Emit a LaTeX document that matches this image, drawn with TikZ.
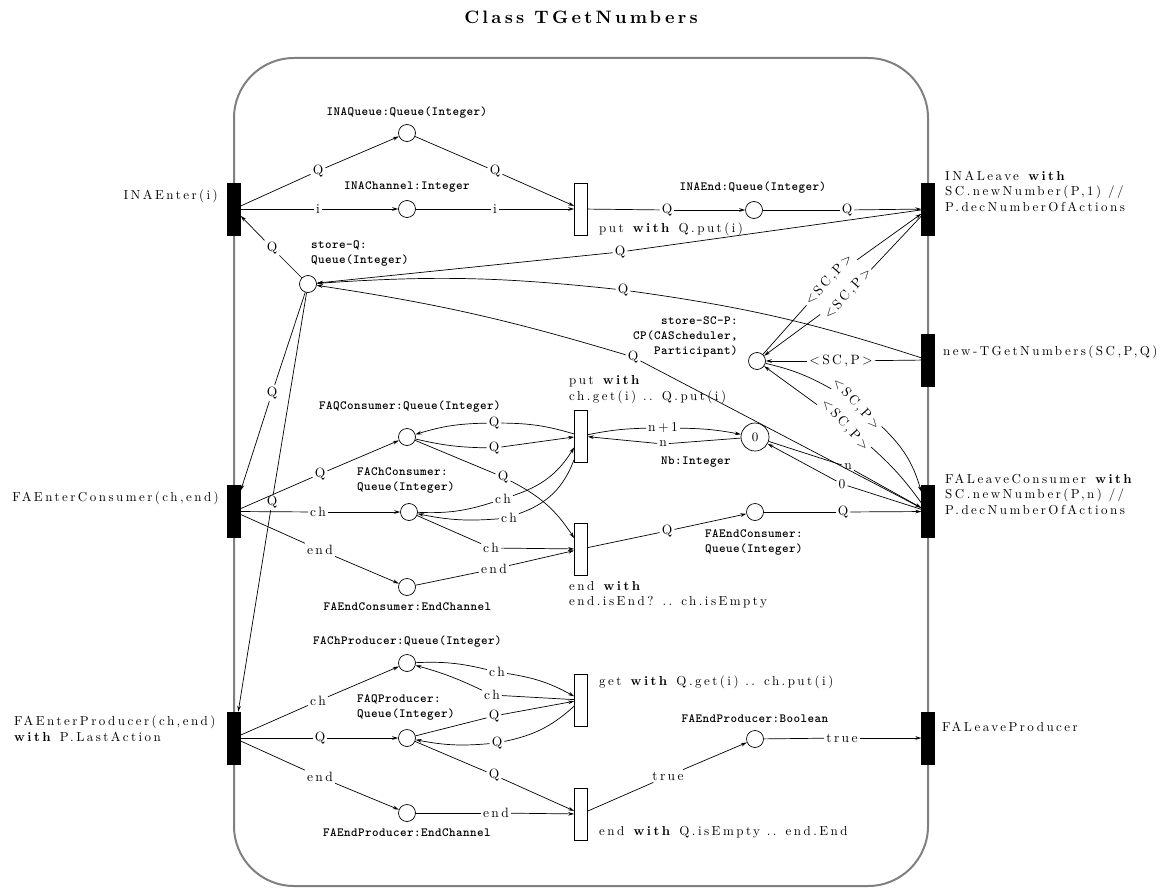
\documentclass[tikz,border=0pt]{standalone}
\usepackage{fontspec}
\setmainfont{lmroman10}[Extension=.otf, UprightFont=*-regular, BoldFont=*-bold, ItalicFont=*-italic, BoldItalicFont=*-bolditalic]
\setmonofont{lmmonolt10}[Extension=.otf, UprightFont=*-regular, BoldFont=*-bold]
\usetikzlibrary{arrows.meta}
\definecolor{boxgray}{gray}{0.5}
\newcommand\netlabfont{\fontsize{13}{15.5}\selectfont\addfontfeature{LetterSpace=19}}
\newcommand\netarcfont{\fontsize{13.5}{16}\selectfont\addfontfeature{LetterSpace=18}}
\newcommand\netmonofont{\ttfamily\bfseries\fontsize{12.5}{15}\selectfont\addfontfeature{LetterSpace=3.5}}
\newcommand\nettitlefont{\bfseries\fontsize{18}{21}\selectfont\addfontfeature{LetterSpace=18}}
\begin{document}
\begin{tikzpicture}[x=1pt,y=1pt,
  flow/.style={line width=0.7pt},
  flowarr/.style={flow,-{Stealth[length=6pt,width=3.6pt]}},
  bt/.style={draw,fill=black,minimum width=13pt,minimum height=52pt,inner sep=0pt},
  wt/.style={draw,fill=white,line width=0.7pt,minimum width=13pt,minimum height=52pt,inner sep=0pt},
  pl/.style={circle,draw,fill=white,line width=0.7pt,minimum size=17pt,inner sep=0pt},
  lab/.style={font=\netarcfont,inner sep=2pt},
  txt/.style={font=\netlabfont,inner sep=0pt,align=left},
  mono/.style={font=\netmonofont,inner sep=0pt},
]
\useasboundingbox (0,0) rectangle (1175,-888);

% title and class frame
\node[font=\nettitlefont] (title) at (581,-17) {Class TGetNumbers};
\draw[boxgray,line width=2pt,rounded corners=60pt] (234,-58) rectangle (928,-886);

% interface transitions (on the frame)
\node[bt] (tINAE) at (234,-209) {};
\node[bt] (tFAEC) at (234,-511.5) {};
\node[bt] (tFAEP) at (234,-738) {};
\node[bt] (tINAL) at (928,-209) {};
\node[bt] (tNew)  at (928,-360) {};
\node[bt] (tFALC) at (928,-511.5) {};
\node[bt] (tFALP) at (928,-738) {};

% internal transitions
\node[wt] (uPut)  at (581,-209) {};
\node[wt] (uPutM) at (581,-436) {};
\node[wt] (uEndC) at (581,-549) {};
\node[wt] (uGet)  at (581,-700) {};
\node[wt] (uEndP) at (581,-814) {};

% places
\node[pl] (pINAQ)    at (407,-133) {};
\node[pl] (pINACh)   at (407,-209) {};
\node[pl] (pINAEnd)  at (754,-210) {};
\node[pl] (pStoreQ)  at (308,-284) {};
\node[pl] (pSCP)     at (757,-361) {};
\node[pl] (pFAQC)    at (407,-437) {};
\node[pl,minimum size=28pt,font=\netlabfont] (pNb) at (755,-437) {0};
\node[pl] (pFAChC)   at (409,-512) {};
\node[pl] (pFAEndCQ) at (755,-512) {};
\node[pl] (pFAEndCE) at (407,-587) {};
\node[pl] (pFAChP)   at (407,-663) {};
\node[pl] (pFAQP)    at (407,-738) {};
\node[pl] (pFAEndPE) at (407,-813) {};
\node[pl] (pFAEndPB) at (755,-739) {};

% transition texts
\node[txt,anchor=east] (xINAE) at (218,-196) {INAEnter(i)};
\node[txt,anchor=east] (xFAEC) at (219,-498) {FAEnterConsumer(ch,end)};
\node[txt,anchor=west] (xFAEP) at (14,-728.5) {FAEnterProducer(ch,end)\\\textbf{with} P.LastAction};
\node[txt,anchor=west] (xINAL) at (945,-191) {INALeave \textbf{with}\\SC.newNumber(P,1) //\\P.decNumberOfActions};
\node[txt,anchor=west] (xNew)  at (943,-352) {new-TGetNumbers(SC,P,Q)};
\node[txt,anchor=west] (xFALC) at (945,-494) {FALeaveConsumer \textbf{with}\\SC.newNumber(P,n) //\\P.decNumberOfActions};
\node[txt,anchor=west] (xFALP) at (942,-727) {FALeaveProducer};
\node[txt,anchor=west] (xPut)  at (599,-229) {put \textbf{with} Q.put(i)};
\node[txt,anchor=west] (xPutM) at (569,-389.5) {put \textbf{with}\\ch.get(i) .. Q.put(i)};
\node[txt,anchor=west] (xEndC) at (569,-595) {end \textbf{with}\\end.isEnd? .. ch.isEmpty};
\node[txt,anchor=west] (xGet)  at (599,-682) {get \textbf{with} Q.get(i) .. ch.put(i)};
\node[txt,anchor=west] (xEndP) at (599,-832) {end \textbf{with} Q.isEmpty .. end.End};

% place texts
\node[mono] (mINAQ)  at (407,-113) {INAQueue:Queue(Integer)};
\node[mono] (mINACh) at (407,-187) {INAChannel:Integer};
\node[mono] (mINAEnd) at (753,-188) {INAEnd:Queue(Integer)};
\node[mono,anchor=west,align=left] (mStoreQ) at (311,-253.5) {store-Q:\\Queue(Integer)};
\node[mono,anchor=east,align=right] (mSCP) at (738,-337) {store-SC-P:\\CP(CAScheduler,\\Participant)};
\node[mono] (mFAQC) at (410,-407) {FAQConsumer:Queue(Integer)};
\node[mono] (mNb) at (696,-462) {Nb:Integer};
\node[mono,anchor=west,align=left] (mFAChC) at (357,-480.5) {FAChConsumer:\\Queue(Integer)};
\node[mono] (mFAEndCE) at (407.5,-607) {FAEndConsumer:EndChannel};
\node[mono,anchor=west,align=left] (mFAEndCQ) at (705,-542) {FAEndConsumer:\\Queue(Integer)};
\node[mono] (mFAChP) at (407.5,-642) {FAChProducer:Queue(Integer)};
\node[mono,anchor=west,align=left] (mFAQP) at (357,-707.5) {FAQProducer:\\Queue(Integer)};
\node[mono] (mFAEndPE) at (407,-833) {FAEndProducer:EndChannel};
\node[mono] (mFAEndPB) at (755,-719) {FAEndProducer:Boolean};

% arc inscriptions
\node[lab] (a1)  at (318,-171) {Q};
\node[lab] (a2)  at (495,-171) {Q};
\node[lab] (a3)  at (318,-209) {i};
\node[lab] (a4)  at (495,-209) {i};
\node[lab] (a5)  at (667,-210) {Q};
\node[lab] (a6)  at (847,-210) {Q};
\node[lab] (a7)  at (272,-248) {Q};
\node[lab] (a8)  at (620,-252) {Q};
\node[lab] (a9)  at (623,-290) {Q};
\node[lab] (a10) at (633,-357) {Q};
\node[lab] (a11) at (272,-393) {Q};
\node[lab] (a12) at (272,-502) {Q};
\node[lab] (a13) at (320,-474) {Q};
\node[lab] (a14) at (318,-512) {ch};
\node[lab] (a15) at (320,-550) {end};
\node[lab] (a16) at (494,-423) {Q};
\node[lab] (a17) at (494,-448) {Q};
\node[lab] (a18) at (503,-477) {Q};
\node[lab] (a19) at (503,-499) {ch};
\node[lab] (a20) at (509,-518) {ch};
\node[lab] (a21) at (491,-548) {ch};
\node[lab] (a22) at (494,-569) {end};
\node[lab] (a23) at (667,-531) {Q};
\node[lab] (a24) at (843,-512) {Q};
\node[lab] (a25) at (663,-428) {n+1};
\node[lab] (a26) at (663,-444) {n};
\node[lab] (a27) at (848,-467) {n};
\node[lab] (a28) at (842,-484) {0};
\node[lab] (a29) at (841,-361) {<SC,P>};
\node[lab,rotate=48] (a30) at (829,-280) {<SC,P>};
\node[lab,rotate=48] (a31) at (848,-294) {<SC,P>};
\node[lab,rotate=-48] (a32) at (856,-404) {<SC,P>};
\node[lab,rotate=-48] (a33) at (845,-425) {<SC,P>};
\node[lab] (a34) at (318,-701) {ch};
\node[lab] (a35) at (320,-738) {Q};
\node[lab] (a36) at (320,-777) {end};
\node[lab] (a37) at (497,-672) {ch};
\node[lab] (a38) at (492,-695) {ch};
\node[lab] (a39) at (494,-716) {Q};
\node[lab] (a40) at (497,-743) {Q};
\node[lab] (a41) at (494,-775) {Q};
\node[lab] (a42) at (496,-813) {end};
\node[lab] (a43) at (668,-776) {true};
\node[lab] (a44) at (842,-738) {true};

% INA part
\draw[flow] (tINAE) -- (a1);   \draw[flowarr] (a1) -- (pINAQ);
\draw[flow] (pINAQ) -- (a2);   \draw[flowarr] (a2) -- (uPut);
\draw[flow] (tINAE) -- (a3);   \draw[flowarr] (a3) -- (pINACh);
\draw[flow] (pINACh) -- (a4);  \draw[flowarr] (a4) -- (uPut);
\draw[flow] (uPut) -- (a5);    \draw[flowarr] (a5) -- (pINAEnd);
\draw[flow] (pINAEnd) -- (a6); \draw[flowarr] (a6) -- (tINAL);

% store-Q
\draw[flow] (pStoreQ) -- (a7);  \draw[flowarr] (a7) -- (tINAE);
\draw[flow] (tINAL) -- (a8);    \draw[flowarr] (a8) -- (pStoreQ);
\draw[flow] (tNew) to[bend right=5] (a9);  \draw[flowarr] (a9) to[bend right=5] (pStoreQ);
\draw[flow] (tFALC) -- (a10);   \draw[flowarr] (a10) to[bend right=4] (pStoreQ);
\draw[flow] (pStoreQ) -- (a11); \draw[flowarr] (a11) -- (tFAEC);
\draw[flow] (pStoreQ) -- (a12); \draw[flowarr] (a12) -- (tFAEP);

% store-SC-P
\draw[flow] (tNew) -- (a29);  \draw[flowarr] (a29) -- (pSCP);
\draw[flow] (pSCP) -- (a30);  \draw[flowarr] (a30) -- (tINAL);
\draw[flow] (tINAL) -- (a31); \draw[flowarr] (a31) -- (pSCP);
\draw[flow] (pSCP) to[bend left=8] (a32);  \draw[flowarr] (a32) to[bend left=15] (tFALC);
\draw[flow] (tFALC) to[bend right=6] (a33); \draw[flowarr] (a33) -- (pSCP);

% consumer part
\draw[flow] (tFAEC) -- (a13); \draw[flowarr] (a13) -- (pFAQC);
\draw[flow] (tFAEC) -- (a14); \draw[flowarr] (a14) -- (pFAChC);
\draw[flow] (tFAEC) -- (a15); \draw[flowarr] (a15) -- (pFAEndCE);
\draw[flow] (uPutM) to[bend right=8] (a16); \draw[flowarr] (a16) to[bend right=8] (pFAQC);
\draw[flow] (pFAQC) to[bend right=6] (a17); \draw[flowarr] (a17) -- (uPutM);
\draw[flow] (pFAQC) -- (a18);  \draw[flowarr] (a18) to[bend left=15] (uEndC);
\draw[flow] (pFAChC) to[bend right=10] (a19); \draw[flowarr] (a19) to[bend right=20] (uPutM);
\draw[flow] (uPutM) to[bend left=25] (a20);   \draw[flowarr] (a20) to[bend left=8] (pFAChC);
\draw[flow] (pFAChC) -- (a21);   \draw[flowarr] (a21) -- (uEndC);
\draw[flow] (pFAEndCE) -- (a22); \draw[flowarr] (a22) -- (uEndC);
\draw[flow] (uEndC) -- (a23);    \draw[flowarr] (a23) -- (pFAEndCQ);
\draw[flow] (pFAEndCQ) -- (a24); \draw[flowarr] (a24) -- (tFALC);
\draw[flow] (uPutM) to[bend left=5] (a25); \draw[flowarr] (a25) to[bend left=5] (pNb);
\draw[flow] (pNb) -- (a26);   \draw[flowarr] (a26) -- (uPutM);
\draw[flow] (pNb) -- (a27);   \draw[flowarr] (a27) -- (tFALC);
\draw[flow] (tFALC) -- (a28); \draw[flowarr] (a28) -- (pNb);

% producer part
\draw[flow] (tFAEP) -- (a34); \draw[flowarr] (a34) -- (pFAChP);
\draw[flow] (tFAEP) -- (a35); \draw[flowarr] (a35) -- (pFAQP);
\draw[flow] (tFAEP) -- (a36); \draw[flowarr] (a36) -- (pFAEndPE);
\draw[flow] (pFAChP) to[bend left=8] (a37); \draw[flowarr] (a37) to[bend left=10] (uGet);
\draw[flow] (uGet) -- (a38);   \draw[flowarr] (a38) to[bend right=5] (pFAChP);
\draw[flow] (pFAQP) -- (a39);  \draw[flowarr] (a39) -- (uGet);
\draw[flow] (uGet) to[bend left=15] (a40); \draw[flowarr] (a40) to[bend left=8] (pFAQP);
\draw[flow] (pFAQP) -- (a41);  \draw[flowarr] (a41) -- (uEndP);
\draw[flow] (pFAEndPE) -- (a42); \draw[flowarr] (a42) -- (uEndP);
\draw[flow] (uEndP) -- (a43);  \draw[flowarr] (a43) -- (pFAEndPB);
\draw[flow] (pFAEndPB) -- (a44); \draw[flowarr] (a44) -- (tFALP);
\end{tikzpicture}
\end{document}
